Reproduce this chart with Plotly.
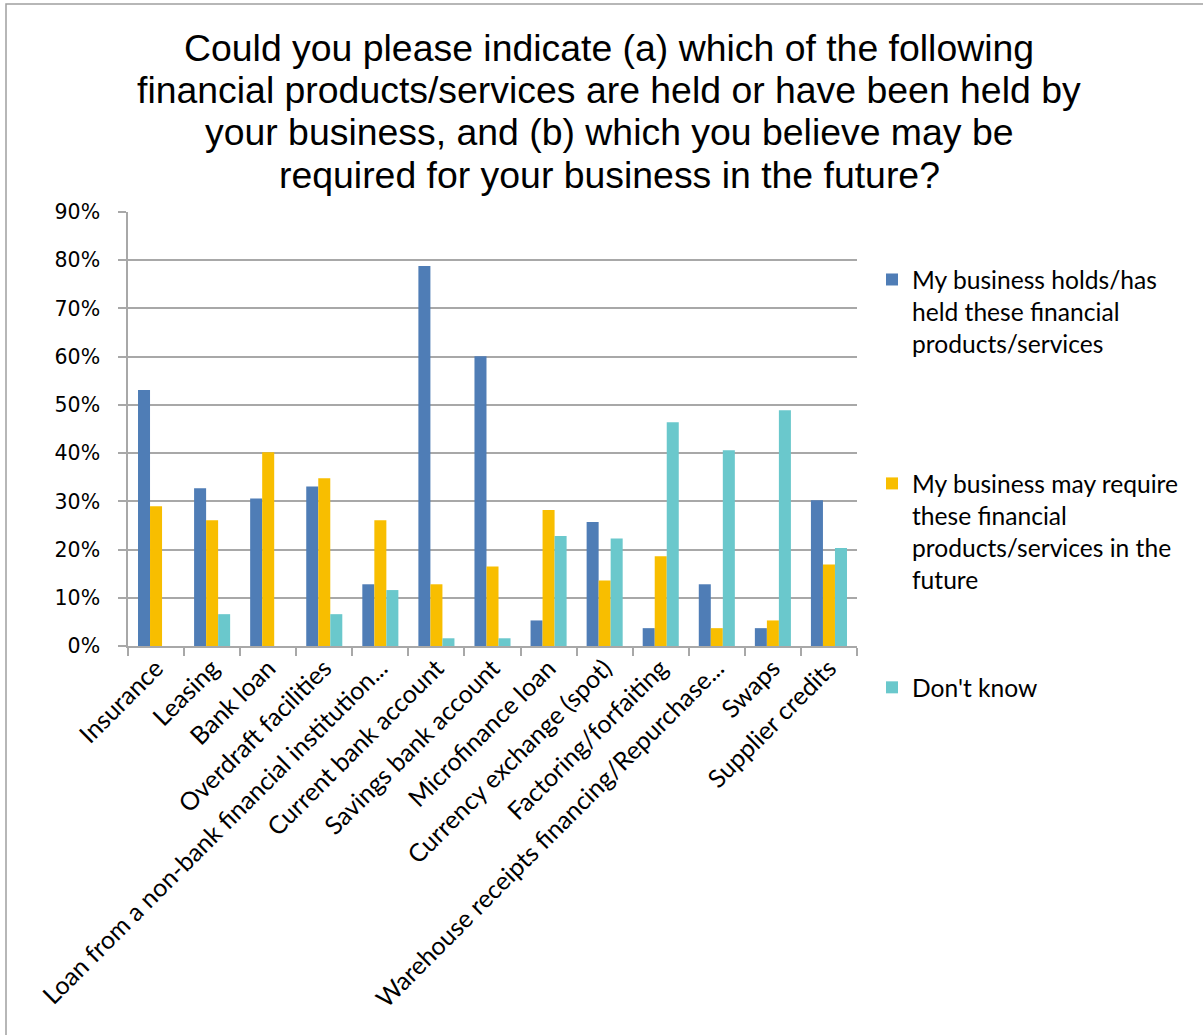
import plotly.graph_objects as go

categories = [
    "Insurance",
    "Leasing",
    "Bank loan",
    "Overdraft facilities",
    "Loan from a non-bank financial institution...",
    "Current bank account",
    "Savings bank account",
    "Microfinance loan",
    "Currency exchange (spot)",
    "Factoring/forfaiting",
    "Warehouse receipts financing/Repurchase...",
    "Swaps",
    "Supplier credits",
]

held = [53.1, 32.7, 30.6, 33.1, 12.8, 78.8, 60.1, 5.3, 25.7, 3.7, 12.8, 3.7, 30.2]
may_require = [29.0, 26.1, 40.2, 34.8, 26.1, 12.8, 16.5, 28.2, 13.6, 18.6, 3.7, 5.3, 16.9]
dont_know = [0.0, 6.6, 0.0, 6.6, 11.6, 1.6, 1.6, 22.8, 22.3, 46.4, 40.6, 48.9, 20.3]

series_names = [
    "My business holds/has<br>held these financial<br>products/services<br>\u00a0",
    "My business may require<br>these financial<br>products/services in the<br>future",
    "Don't know",
]
series_values = [held, may_require, dont_know]
series_colors = ["#4F7DB6", "#F8BE00", "#6AC8CC"]

title_lines = [
    "Could you please indicate (a) which of the following",
    "financial products/services are held or have been held by",
    "your business, and (b) which you believe may be",
    "required for your business in the future?",
]

y_ticks = list(range(0, 91, 10))
y_tick_labels = [f"{v}%" for v in y_ticks]

fig = go.Figure()
for i, (name, vals, col) in enumerate(zip(series_names, series_values, series_colors)):
    fig.add_trace(go.Bar(
        x=categories,
        y=vals,
        name=name,
        marker=dict(color=col, line=dict(width=0)),
        legendgroup=f"g{i}",
    ))

GRID = "#A8A8A8"
W, H = 1203, 1035
L, R, T, B = 128, 857, 212, 646


def px_x(x):
    return (x - L) / (R - L)


def px_y(y):
    return (B - y) / (B - T)


# Four-line heading, one annotation per line so the line pitch stays tight
title_centers = [48, 90, 132, 175]
annotations = [
    dict(
        text=line,
        xref="paper",
        yref="paper",
        x=px_x(609),
        y=px_y(yc),
        xanchor="center",
        yanchor="middle",
        showarrow=False,
        font=dict(family="Liberation Sans, Arial", size=37.4, color="#000000"),
    )
    for line, yc in zip(title_lines, title_centers)
]

fig.update_layout(
    width=W,
    height=H,
    margin=dict(l=L, r=W - R, t=T, b=H - B, autoexpand=False),
    paper_bgcolor="white",
    plot_bgcolor="white",
    barmode="group",
    bargap=0.357,
    bargroupgap=0,
    annotations=annotations,
    xaxis=dict(
        type="category",
        tickangle=-45,
        tickson="boundaries",
        ticks="outside",
        ticklen=8,
        tickcolor=GRID,
        tickwidth=1.5,
        showline=True,
        linecolor=GRID,
        linewidth=1.5,
        showgrid=False,
        tickfont=dict(family="Lato", size=25, color="#000000"),
        ticklabelstandoff=-4,
    ),
    yaxis=dict(
        range=[0, 90],
        tickvals=y_ticks,
        ticktext=y_tick_labels,
        ticks="outside",
        ticklen=8,
        tickcolor=GRID,
        tickwidth=1.5,
        showline=True,
        linecolor=GRID,
        linewidth=1.5,
        showgrid=True,
        gridcolor=GRID,
        gridwidth=1.5,
        zeroline=False,
        tickfont=dict(family="DejaVu Sans", size=20.5, color="#000000"),
        ticklabelstandoff=14,
    ),
    legend=dict(
        x=px_x(872),
        xanchor="left",
        yref="container",
        y=1 - 257 / H,
        yanchor="top",
        valign="top",
        traceorder="grouped",
        tracegroupgap=73,
        font=dict(family="Lato", size=24.6, color="#000000"),
        bgcolor="rgba(0,0,0,0)",
    ),
    shapes=[
        dict(
            type="rect",
            xref="paper",
            yref="paper",
            x0=px_x(6),
            x1=px_x(W + 20),
            y0=px_y(H + 20),
            y1=px_y(4),
            line=dict(color="#A0A0A0", width=1.5),
            fillcolor="rgba(0,0,0,0)",
            layer="below",
        )
    ],
)

fig.write_html("out.html")
